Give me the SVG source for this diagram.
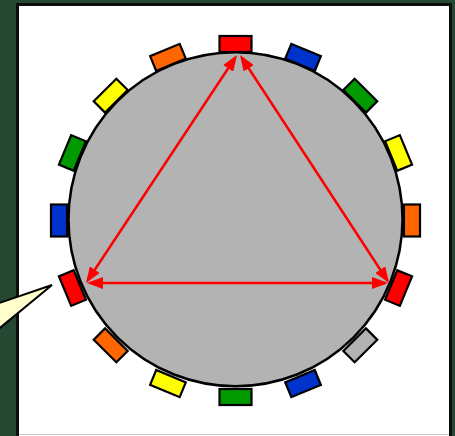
<svg xmlns="http://www.w3.org/2000/svg" width="455" height="436" viewBox="0 0 455 436">
<style>
.slot{stroke:#000;stroke-width:2.2}
.red{fill:#ff0000}.blue{fill:#0033cc}.green{fill:#009900}.yellow{fill:#ffff00}.orange{fill:#ff6600}.gray{fill:#b3b3b3}
.arrow{stroke:#ff0000;stroke-width:2.5;fill:none;marker-start:url(#ah);marker-end:url(#ah)}
</style>
<defs>
<marker id="ah" viewBox="0 0 16 12" refX="13" refY="6" markerWidth="16" markerHeight="12" markerUnits="userSpaceOnUse" orient="auto-start-reverse">
<path d="M0,0 L16,6 L0,12 z" fill="#ff0000"/>
</marker>
</defs>
<rect x="0" y="0" width="455" height="436" fill="#254832"/>
<rect x="17.5" y="4.5" width="433" height="433" fill="#ffffff" stroke="#0a0f0a" stroke-width="3"/>
<line x1="19" y1="434.5" x2="449" y2="434.5" stroke="#c8c8c8" stroke-width="1"/>
<g id="slots">
<rect id="slot0" class="slot red" x="219.5" y="36" width="32" height="16" transform="rotate(0 235.5 220.5)"/>
<rect id="slot1" class="slot blue" x="219.5" y="36" width="32" height="16" transform="rotate(22.5 235.5 220.5)"/>
<rect id="slot2" class="slot green" x="219.5" y="36" width="32" height="16" transform="rotate(45 235.5 220.5)"/>
<rect id="slot3" class="slot yellow" x="219.5" y="36" width="32" height="16" transform="rotate(67.5 235.5 220.5)"/>
<rect id="slot4" class="slot orange" x="219.5" y="36" width="32" height="16" transform="rotate(90 235.5 220.5)"/>
<rect id="slot5" class="slot red" x="219.5" y="36" width="32" height="16" transform="rotate(112.5 235.5 220.5)"/>
<rect id="slot6" class="slot gray" x="219.5" y="36" width="32" height="16" transform="rotate(135 235.5 220.5)"/>
<rect id="slot7" class="slot blue" x="219.5" y="36" width="32" height="16" transform="rotate(157.5 235.5 220.5)"/>
<rect id="slot8" class="slot green" x="219.5" y="36" width="32" height="16" transform="rotate(180 235.5 220.5)"/>
<rect id="slot9" class="slot yellow" x="219.5" y="36" width="32" height="16" transform="rotate(202.5 235.5 220.5)"/>
<rect id="slot10" class="slot orange" x="219.5" y="36" width="32" height="16" transform="rotate(225 235.5 220.5)"/>
<rect id="slot11" class="slot red" x="219.5" y="36" width="32" height="16" transform="rotate(247.5 235.5 220.5)"/>
<rect id="slot12" class="slot blue" x="219.5" y="36" width="32" height="16" transform="rotate(270 235.5 220.5)"/>
<rect id="slot13" class="slot green" x="219.5" y="36" width="32" height="16" transform="rotate(292.5 235.5 220.5)"/>
<rect id="slot14" class="slot yellow" x="219.5" y="36" width="32" height="16" transform="rotate(315 235.5 220.5)"/>
<rect id="slot15" class="slot orange" x="219.5" y="36" width="32" height="16" transform="rotate(337.5 235.5 220.5)"/>
</g>
<g id="ring">
<circle cx="235.5" cy="219.2" r="167" fill="#b3b3b3" stroke="#000" stroke-width="2.5"/>
</g>
<g id="connectors">
<line class="arrow" x1="87.65" y1="280.5" x2="235.35" y2="57.5"/>
<line class="arrow" x1="241.64" y1="57.5" x2="387.36" y2="280.5"/>
<line class="arrow" x1="90" y1="283" x2="385" y2="283"/>
</g>
<g id="callout">
<polygon points="-5,304.5 52,285 -5,332" fill="#ffffcc" stroke="#000" stroke-width="2"/>
</g>
</svg>
